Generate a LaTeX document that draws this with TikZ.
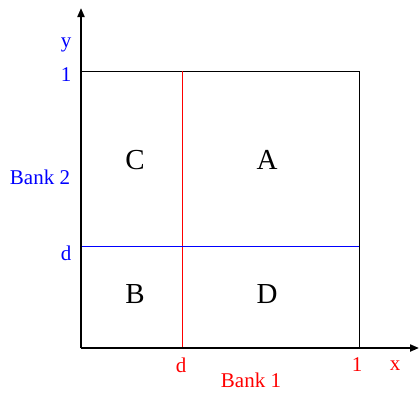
\documentclass[tikz,border=0pt]{standalone}
\usepackage{fontspec}
\setmainfont{Liberation Serif}
\usetikzlibrary{arrows.meta}
\begin{document}
\begin{tikzpicture}[x=1pt,y=-1pt,
  lbl/.style={inner sep=0pt,font=\fontsize{21}{21}\selectfont},
  big/.style={inner sep=0pt,font=\fontsize{29}{29}\selectfont},
  axis/.style={line width=2pt,-{Triangle[length=9pt,width=7pt]}},
  fineline/.style={line width=0.8pt}]
\useasboundingbox (0,0) rectangle (420,392);
\coordinate (O) at (81,348);
\coordinate (Ytop) at (81,8);
\coordinate (Xend) at (419,348);
\coordinate (TL) at (81,71);
\coordinate (TR) at (359,71);
\coordinate (BR) at (359,348);
\coordinate (dtop) at (182,71);
\coordinate (dbot) at (182,348);
\coordinate (dl) at (81,246);
\coordinate (dr) at (359,246);
% box
\draw[fineline,black] (TL) -- (TR) -- (BR);
% inner lines
\draw[fineline,red] (dtop) -- (dbot);
\draw[fineline,blue] (dl) -- (dr);
% axes
\draw[axis,black] (O) -- (Ytop);
\draw[axis,black] (O) -- (Xend);
% labels
\node[lbl,text=blue] (ylab) at (66,45) {y};
\node[lbl,text=blue] (y1) at (66,75) {1};
\node[lbl,text=blue] (bank2) at (40,177) {Bank 2};
\node[lbl,text=blue] (yd) at (66,253) {d};
\node[lbl,text=red] (xd) at (181,365) {d};
\node[lbl,text=red] (x1) at (357,365) {1};
\node[lbl,text=red] (xlab) at (395,366) {x};
\node[lbl,text=red] (bank1) at (251,380) {Bank 1};
\node[big] (C) at (135,160) {C};
\node[big] (A) at (267,160) {A};
\node[big] (B) at (135,294) {B};
\node[big] (D) at (267,294) {D};
\end{tikzpicture}
\end{document}
